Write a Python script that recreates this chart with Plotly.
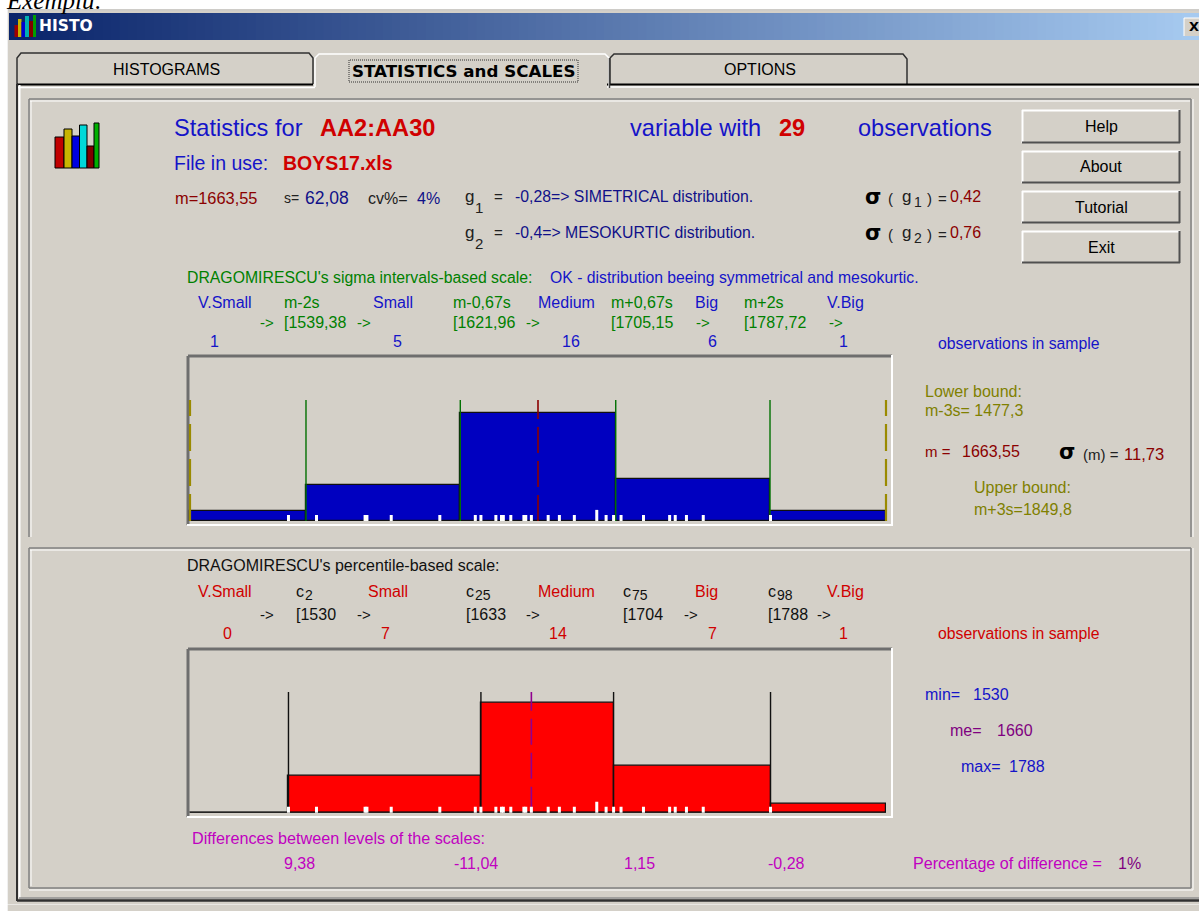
import plotly.graph_objects as go
from collections import Counter

# ---------- data ----------
observations = [1530, 1545, 1571, 1572, 1585, 1611, 1630, 1633, 1641, 1644, 1645, 1649,
                1656, 1657, 1660, 1669, 1675, 1683, 1695, 1695, 1700, 1704, 1708, 1720,
                1734, 1737, 1743, 1752, 1788]
lower_bound = 1477.3
upper_bound = 1849.8
mean_value = 1663.55
median_value = 1660

sigma_edges = [1477.3, 1539.38, 1621.96, 1705.15, 1787.72, 1849.8]
sigma_density = [0.0178, 0.0636, 0.1925, 0.0743, 0.0178]
sigma_cuts = [1539.38, 1621.96, 1705.15, 1787.72]

pct_edges = [1477.3, 1530, 1633, 1704, 1788, 1849.8]
pct_density = [0.0, 0.0668, 0.1962, 0.0835, 0.0160]
pct_cuts = [1530, 1633, 1704, 1788]

level_names = ["V.Small", "Small", "Medium", "Big", "V.Big"]
sigma_counts = ["1", "5", "16", "6", "1"]
pct_counts = ["0", "7", "14", "7", "1"]
level_diffs = ["9,38", "-11,04", "1,15", "-0,28"]

# ---------- helpers ----------
W, H = 1199, 911
GREY = "#D4D0C8"
BLUE = "#1414C8"
RED = "#D00000"
DKRED = "#8B0000"
GREEN = "#008000"
OLIVE = "#808000"
MAG = "#C000C0"
PURPLE = "#800080"
NAVY = "#101088"
SANS = "Liberation Sans"

shapes, annots = [], []


def px(x):
    return x / W


def py(y):
    return 1 - y / H


def rect(x0, y0, x1, y1, fill, line=None, lw=1):
    shapes.append(dict(type="rect", xref="paper", yref="paper", layer="below",
                       x0=px(x0), x1=px(x1), y0=py(y1), y1=py(y0), fillcolor=fill,
                       line=dict(color=line or fill, width=lw if line else 0)))


def hl(x0, x1, y, color, w=1):
    shapes.append(dict(type="line", xref="paper", yref="paper", layer="below",
                       x0=px(x0), x1=px(x1), y0=py(y), y1=py(y), line=dict(color=color, width=w)))


def vl(x, y0, y1, color, w=1):
    shapes.append(dict(type="line", xref="paper", yref="paper", layer="below",
                       x0=px(x), x1=px(x), y0=py(y0), y1=py(y1), line=dict(color=color, width=w)))


def txt(x, y, s, color="#000000", size=15, bold=False, anchor="left", family=SANS):
    label = f"<b>{s}</b>" if bold else s
    annots.append(dict(xref="paper", yref="paper", x=px(x), y=py(y), text=label, showarrow=False,
                       xanchor=anchor, yanchor="middle", align=anchor, borderpad=0, borderwidth=0,
                       font=dict(family=family, size=size, color=color)))


def button(x0, y0, x1, y1, s):
    rect(x0, y0, x1, y1, GREY)
    hl(x0, x1, y0 + 0.5, "#FFFFFF", 2)
    vl(x0 + 0.5, y0, y1, "#FFFFFF", 2)
    hl(x0, x1, y1 - 0.5, "#505050", 2)
    vl(x1 - 0.5, y0, y1, "#505050", 2)
    txt((x0 + x1) / 2, (y0 + y1) / 2, s, "#000000", 16, anchor="center")


def sink(x0, y0, x1, y1):
    hl(x0, x1, y0, "#6E6E6E", 3)
    vl(x0, y0, y1, "#6E6E6E", 3)
    hl(x0 - 1, x1 + 1, y1, "#FFFFFF", 2)
    vl(x1, y0 - 1, y1 + 1, "#FFFFFF", 2)


def path(points, color, w=1):
    d = "M " + " L ".join(f"{px(a)},{py(b)}" for a, b in points)
    shapes.append(dict(type="path", xref="paper", yref="paper", layer="below", path=d,
                       line=dict(color=color, width=w)))


# ---------- window chrome ----------
rect(7, 9, W + 2, H + 2, GREY)
hl(7, W, 10, "#C8C8C8", 1)
vl(7.5, 9, H, "#F0F0F0", 1)

n = 140
c0, c1 = (10, 36, 106), (166, 202, 240)
for i in range(n):
    t = i / (n - 1)
    col = "rgb(%d,%d,%d)" % tuple(round(a + (b - a) * t) for a, b in zip(c0, c1))
    rect(9 + (W - 9) * i / n, 13, 9 + (W - 9) * (i + 1) / n + 0.5, 40, col)

for x0, x1, y0, col in [(14.5, 18, 25, "#A00000"), (18, 21.5, 19, "#C8B400"), (21.5, 25, 22, "#0000D0"),
                        (25, 29, 16, "#00B0B0"), (29, 33, 21, "#800000"), (33, 36, 15, "#00A000")]:
    rect(x0, y0, x1, 37, col)
txt(39, 26, "HISTO", "#FFFFFF", 15.5, True, family="DejaVu Sans")
rect(1184, 18, W + 2, 36, GREY)
hl(1184, W, 18, "#FFFFFF", 1)
vl(1184, 18, 36, "#FFFFFF", 1)
txt(1189, 27, "X", "#000000", 13, True, family="DejaVu Sans")

# tabs
path([(17, 84), (17, 58), (21, 53), (309, 53), (313, 58), (313, 84)], "#303030", 1.5)
path([(610, 84), (610, 58), (614, 54), (903, 54), (907, 59), (907, 84)], "#303030", 1.5)
hl(17, 313, 84.5, "#000000", 2)
hl(607, W, 84.5, "#000000", 2)
hl(607, W, 87, "#FFFFFF", 1.5)
hl(18, 315, 87.5, "#FFFFFF", 1.5)
path([(315, 87), (315, 58), (319, 54), (605, 54), (609, 58), (609, 88)], "#FFFFFF", 1.5)
vl(609.5, 58, 88, "#404040", 1.5)
vl(17, 84, 901, "#303030", 2)
vl(19.5, 85, 898, "#FFFFFF", 2)
hl(17, W, 900.5, "#303030", 2.5)
hl(19, W, 898, "#909090", 1.5)
hl(7, W + 1, 904.5, "#FFFFFF", 0.5)

txt(166, 69, "HISTOGRAMS", "#000000", 16, anchor="center")
txt(463, 71, "STATISTICS and SCALES", "#000000", 16.7, True, anchor="center", family="DejaVu Sans")
rect(349, 60, 578, 82, "rgba(0,0,0,0)", "#303030", 1)
shapes[-1]["line"]["dash"] = "1px,1px"
txt(760, 69, "OPTIONS", "#000000", 16, anchor="center")

# etched panels
for x0, y0, x1, y1 in [(29, 99, 1191, 537)]:
    hl(x0, x1, y0, "#808080", 1.5)
    hl(x0 + 1, x1 - 1, y0 + 2, "#FFFFFF", 1)
    vl(x0, y0, y1, "#808080", 1.5)
    vl(x0 + 2, y0 + 2, y1, "#FFFFFF", 1)
    vl(x1, y0, y1, "#808080", 1.5)
    vl(x1 + 2, y0, y1, "#FFFFFF", 1)
for x0, y0, x1, y1 in [(29, 548, 1191, 888)]:
    hl(x0, x1, y0, "#808080", 1.5)
    hl(x0 + 1, x1 - 1, y0 + 2, "#FFFFFF", 1)
    vl(x0, y0, y1, "#808080", 1.5)
    vl(x0 + 2, y0 + 2, y1 - 2, "#FFFFFF", 1)
    vl(x1, y0, y1, "#808080", 1.5)
    vl(x1 + 2, y0, y1 + 2, "#FFFFFF", 1)
    hl(x0, x1, y1, "#808080", 1.5)
    hl(x0, x1 + 2, y1 + 2, "#FFFFFF", 1)

# icon
for x0, x1, y0, col in [(55, 64, 137, "#C00000"), (64, 72, 129, "#C8B400"), (72, 79.5, 136, "#0000E0"),
                        (79.5, 87, 125, "#00D8D8"), (87, 94, 146, "#800000"), (94, 99, 123, "#00B000")]:
    rect(x0, y0, x1, 168, col, "#000000", 1)

# buttons
button(1022, 110, 1180, 143, "Help")
button(1022, 151, 1180, 183, "About")
button(1022, 191, 1180, 223, "Tutorial")
button(1022, 231, 1180, 263, "Exit")

# plot frames
sink(188, 356, 892, 525)
sink(188, 649, 892, 817)

# ---------- header texts ----------
txt(6, 0, "<i>Exemplu:</i>", "#000000", 25, family="Liberation Serif")
txt(174, 128, "Statistics for", BLUE, 23.6)
txt(320, 128, "AA2:AA30", RED, 23.6, True)
txt(630, 128, "variable with", BLUE, 23.6)
txt(779, 128, "29", RED, 23.6, True)
txt(858, 128, "observations", BLUE, 23.6)
txt(174, 163, "File in use:", BLUE, 19.5)
txt(283, 163, "BOYS17.xls", RED, 19.5, True)
txt(175, 198, "m=1663,55", DKRED, 16.4)
txt(284, 198, "s=", "#202020", 14)
txt(305, 198, "62,08", NAVY, 17.5)
txt(368, 198, "cv%=", "#202020", 16)
txt(417, 198, "4%", NAVY, 16)
for y, sub, rest in [(197, "1", "-0,28=> SIMETRICAL distribution."), (233, "2", "-0,4=> MESOKURTIC distribution.")]:
    txt(465, y, "g", "#202020", 17)
    txt(475, y + 11, sub, "#202020", 15)
    txt(494, y, "=", "#202020", 15)
    txt(515, y, rest, NAVY, 15.8)
for y, sub, val in [(197, "1", "0,42"), (233, "2", "0,76")]:
    txt(865, y, "σ", "#000000", 21, True, family="DejaVu Sans")
    txt(888, y + 1, "(", "#202020", 15)
    txt(902, y, "g", "#202020", 17)
    txt(914, y + 5, sub, "#202020", 14)
    txt(927, y + 1, ")", "#202020", 15)
    txt(938, y + 1, "=", "#202020", 15)
    txt(950, y, val, DKRED, 16)

# ---------- sigma scale texts ----------
txt(187, 277, "DRAGOMIRESCU's sigma intervals-based scale:", GREEN, 15.8)
txt(550, 277, "OK - distribution beeing symmetrical and mesokurtic.", BLUE, 15.75)
for x, s in zip([198, 373, 538, 695, 827], level_names):
    txt(x, 302, s, BLUE, 16)
for x, s in zip([284, 453, 611, 744], ["m-2s", "m-0,67s", "m+0,67s", "m+2s"]):
    txt(x, 302, s, GREEN, 16)
for x, s in zip([284, 453, 611, 744], ["[1539,38", "[1621,96", "[1705,15", "[1787,72"]):
    txt(x, 323, s, GREEN, 16)
for x in [260, 357, 526, 696, 829]:
    txt(x, 323, "->", GREEN, 15)
for x, s in zip([214, 397, 571, 712, 844], sigma_counts):
    txt(x, 342, s, BLUE, 16, anchor="center")
txt(938, 343, "observations in sample", BLUE, 15.8)
txt(925, 391, "Lower bound:", OLIVE, 16)
txt(925, 411, "m-3s= 1477,3", OLIVE, 16)
txt(925, 452, "m =", DKRED, 15)
txt(962, 451, "1663,55", DKRED, 16)
txt(1059, 452, "σ", "#000000", 21, True, family="DejaVu Sans")
txt(1083, 454, "(m) =", "#202020", 15)
txt(1124, 454, "11,73", DKRED, 16.5)
txt(974, 488, "Upper bound:", OLIVE, 16)
txt(974, 509, "m+3s=1849,8", OLIVE, 16)

# ---------- percentile scale texts ----------
txt(187, 565, "DRAGOMIRESCU's percentile-based scale:", "#101010", 16)
for x, s in zip([198, 368, 538, 695, 827], level_names):
    txt(x, 591, s, RED, 16)
for x, s in zip([296, 466, 623, 768], ["2", "25", "75", "98"]):
    txt(x, 591, "c", "#101010", 16)
    txt(x + 9, 595, s, "#101010", 14)
for x, s in zip([296, 466, 623, 768], ["[1530", "[1633", "[1704", "[1788"]):
    txt(x, 614, s, "#101010", 16)
for x in [260, 357, 526, 684, 817]:
    txt(x, 614, "->", "#101010", 15)
for x, s in zip([227, 385, 558, 712, 844], pct_counts):
    txt(x, 633, s, RED, 16, anchor="center")
txt(938, 633, "observations in sample", RED, 15.8)
txt(925, 694, "min=", BLUE, 16)
txt(973, 694, "1530", BLUE, 16)
txt(950, 730, "me=", PURPLE, 16)
txt(997, 730, "1660", PURPLE, 16)
txt(961, 766, "max=", BLUE, 16)
txt(1009, 766, "1788", BLUE, 16)
txt(192, 838, "Differences between levels of the scales:", MAG, 16.2)
for x, s in zip([299, 476, 639, 786], level_diffs):
    txt(x, 863, s, MAG, 16, anchor="center")
txt(913, 863, "Percentage of difference =", MAG, 16.1)
txt(1118, 863, "1%", PURPLE, 16)

# ---------- charts ----------
fig = go.Figure()
YMAX = 0.2941
TICK = 0.0107
LINE_TOP = 0.2155
rug_x, rug_y = [], []
for v, c in Counter(observations).items():
    rug_x += [v, v, None]
    rug_y += [-0.001, TICK * 1.85 if c > 1 else TICK, None]


def chart(ax, edges, dens, cuts, fill, cut_color, centre, centre_color, bound_color):
    xa, ya = f"x{ax}", f"y{ax}"
    fig.add_trace(go.Bar(x=edges[:-1], y=dens, width=[b - a for a, b in zip(edges, edges[1:])],
                         offset=0, xaxis=xa, yaxis=ya, cliponaxis=False,
                         marker=dict(color=fill, line=dict(color="#101010", width=1.2)),
                         showlegend=False, hoverinfo="x+y"))
    fig.add_trace(go.Scatter(x=[edges[0], edges[-1]], y=[0, 0], mode="lines", xaxis=xa, yaxis=ya,
                             cliponaxis=False, line=dict(color="#101010", width=2),
                             showlegend=False, hoverinfo="skip"))
    for c in cuts:
        fig.add_trace(go.Scatter(x=[c, c], y=[0, LINE_TOP], mode="lines", xaxis=xa, yaxis=ya,
                                 line=dict(color=cut_color, width=1.4), showlegend=False, hoverinfo="skip"))
    if bound_color:
        for b in [lower_bound, upper_bound]:
            fig.add_trace(go.Scatter(x=[b, b], y=[0, LINE_TOP], mode="lines", xaxis=xa, yaxis=ya,
                                     cliponaxis=False, line=dict(color=bound_color, width=2.2, dash="27px,8px"),
                                     showlegend=False, hoverinfo="skip"))
    fig.add_trace(go.Scatter(x=[centre, centre], y=[0, LINE_TOP], mode="lines", xaxis=xa, yaxis=ya,
                             line=dict(color=centre_color, width=1.6, dash="26px,8px"),
                             showlegend=False, hoverinfo="skip"))
    fig.add_trace(go.Scatter(x=rug_x, y=rug_y, mode="lines", xaxis=xa, yaxis=ya, cliponaxis=False,
                             line=dict(color="#FFFFFF", width=3), connectgaps=False,
                             showlegend=False, hoverinfo="skip"))


chart("", sigma_edges, sigma_density, sigma_cuts, "#0000C0", "#007000", mean_value, "#8B0000", "#9A8A00")
chart("2", pct_edges, pct_density, pct_cuts, "#FF0000", "#101010", median_value, "#900090", None)

hidden = dict(showgrid=False, zeroline=False, showticklabels=False, ticks="", showline=False, fixedrange=True)
# a little slack of 2 px either side so the bound lines sit inside the plot area
SLACK = 2 * (upper_bound - lower_bound) / 696
xrange_ = [lower_bound - SLACK, upper_bound + SLACK]
xdom = [188 / W, 888 / W]
fig.update_layout(
    width=W, height=H, margin=dict(l=0, r=0, t=0, b=0, pad=0), autosize=False,
    paper_bgcolor="#FFFFFF", plot_bgcolor="rgba(0,0,0,0)", showlegend=False, bargap=0,
    shapes=shapes, annotations=annots, font=dict(family=SANS),
    xaxis=dict(domain=xdom, range=xrange_, anchor="y", **hidden),
    yaxis=dict(domain=[py(521), py(356)], range=[0, YMAX], anchor="x", **hidden),
    xaxis2=dict(domain=xdom, range=xrange_, anchor="y2", **hidden),
    yaxis2=dict(domain=[py(812.8), py(649.8)], range=[0, YMAX * 163 / 165], anchor="x2", **hidden),
)
fig.write_html("out.html", config={"displayModeBar": False},
               post_script="document.body.style.margin='0';document.body.style.overflow='hidden';")
